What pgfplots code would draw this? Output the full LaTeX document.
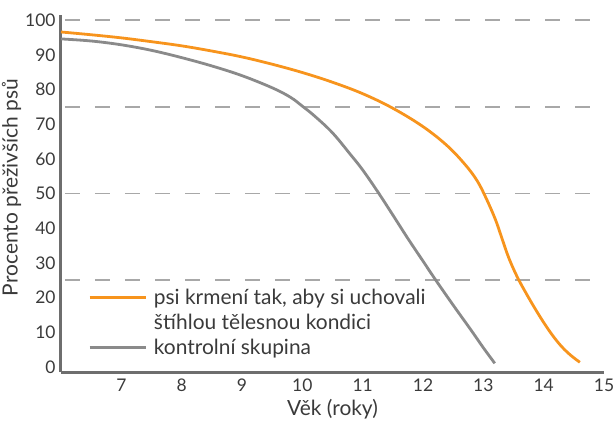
\documentclass[border=0pt]{standalone}
\usepackage{pgfplots}
\pgfplotsset{compat=1.18}
\usepackage{fontspec}
\setmainfont{Lato}
\definecolor{cOrange}{HTML}{F7941D}
\definecolor{cGray}{HTML}{8A8A8A}
\definecolor{cAxis}{HTML}{6E6E6E}
\definecolor{cGrid}{HTML}{A8A8A8}
\definecolor{cText}{HTML}{3A3A3A}
\begin{document}
\begin{tikzpicture}
\path[use as bounding box] (-61bp,-51bp) rectangle (552bp,372bp);
\begin{axis}[
  at={(0,0)}, anchor=south west,
  scale only axis, width=543bp, height=357bp,
  xmin=6, xmax=15, ymin=-1.5, ymax=101.5,
  axis x line=bottom, axis y line=left,
  axis line style={-, line width=3bp, color=cAxis},
  xtick={7,...,15}, ytick={0,10,...,100},
  major tick length=0pt,
  tick style={draw=none},
  /pgf/number format/assume math mode=true,
  ticklabel style={font=\fontsize{17.5}{20}\selectfont, text=cText},
  xticklabel style={yshift=-3bp},
  yticklabel style={xshift=-2bp},
  xlabel={Věk (roky)}, ylabel={Procento přeživších psů},
  label style={font=\fontsize{21}{24}\selectfont, text=cText},
  xlabel style={yshift=-1bp},
  ylabel style={yshift=-3bp, xshift=6bp},
  extra y ticks={25,50,75,100},
  extra y tick labels={},
  extra y tick style={grid=major, major grid style={cGrid, line width=1.6bp, dash pattern=on 15bp off 15bp, dash phase=-4bp}},
  legend style={at={(axis cs:6.45,23.0)}, anchor=north west, draw=none, fill=none,
    font=\fontsize{21}{24}\selectfont, text=cText, row sep=4bp,
    inner sep=0pt, outer sep=0pt},
  legend cell align=left,
  legend image code/.code={\draw[#1] (0bp,0bp) -- (56bp,0bp); \path (61bp,0bp);},
]
\addplot[cOrange, line width=2.8bp, smooth, tension=0.6] coordinates {
(6,96.6) (6.5,95.8) (7,94.9) (7.5,93.8) (8,92.6) (8.5,91.1) (9,89.4)
(9.5,87.3) (10,84.9) (10.5,82.1) (11,78.8) (11.5,74.6) (12,69.3)
(12.4,63.8) (12.7,58.3) (12.9,53.6) (13.05,48.5) (13.2,42.5) (13.3,37.5)
(13.42,31.5) (13.56,26) (13.7,21.5) (13.85,17) (14.0,12.8) (14.15,9.0)
(14.3,5.8) (14.45,3.3) (14.6,1.3)};
\addlegendentry{psi krmení tak, aby si uchovali}
\addlegendimage{empty legend}
\addlegendentry{štíhlou tělesnou kondici}
\addplot[cGray, line width=2.8bp, smooth, tension=0.6] coordinates {
(6,94.6) (6.5,94.0) (7,92.9) (7.5,91.3) (8,89.2) (8.5,86.8) (9,84.0)
(9.5,80.5) (9.8,77.8) (10.0,75.2) (10.2,72.4) (10.5,67.5) (10.8,61.2)
(11.0,56.8) (11.25,50.5) (11.5,43.8) (11.75,37.0) (12.0,30.5) (12.2,25.3)
(12.5,17.8) (12.8,10.5) (13.0,5.5) (13.19,1)};
\addlegendentry{kontrolní skupina}
\end{axis}
\end{tikzpicture}
\end{document}
